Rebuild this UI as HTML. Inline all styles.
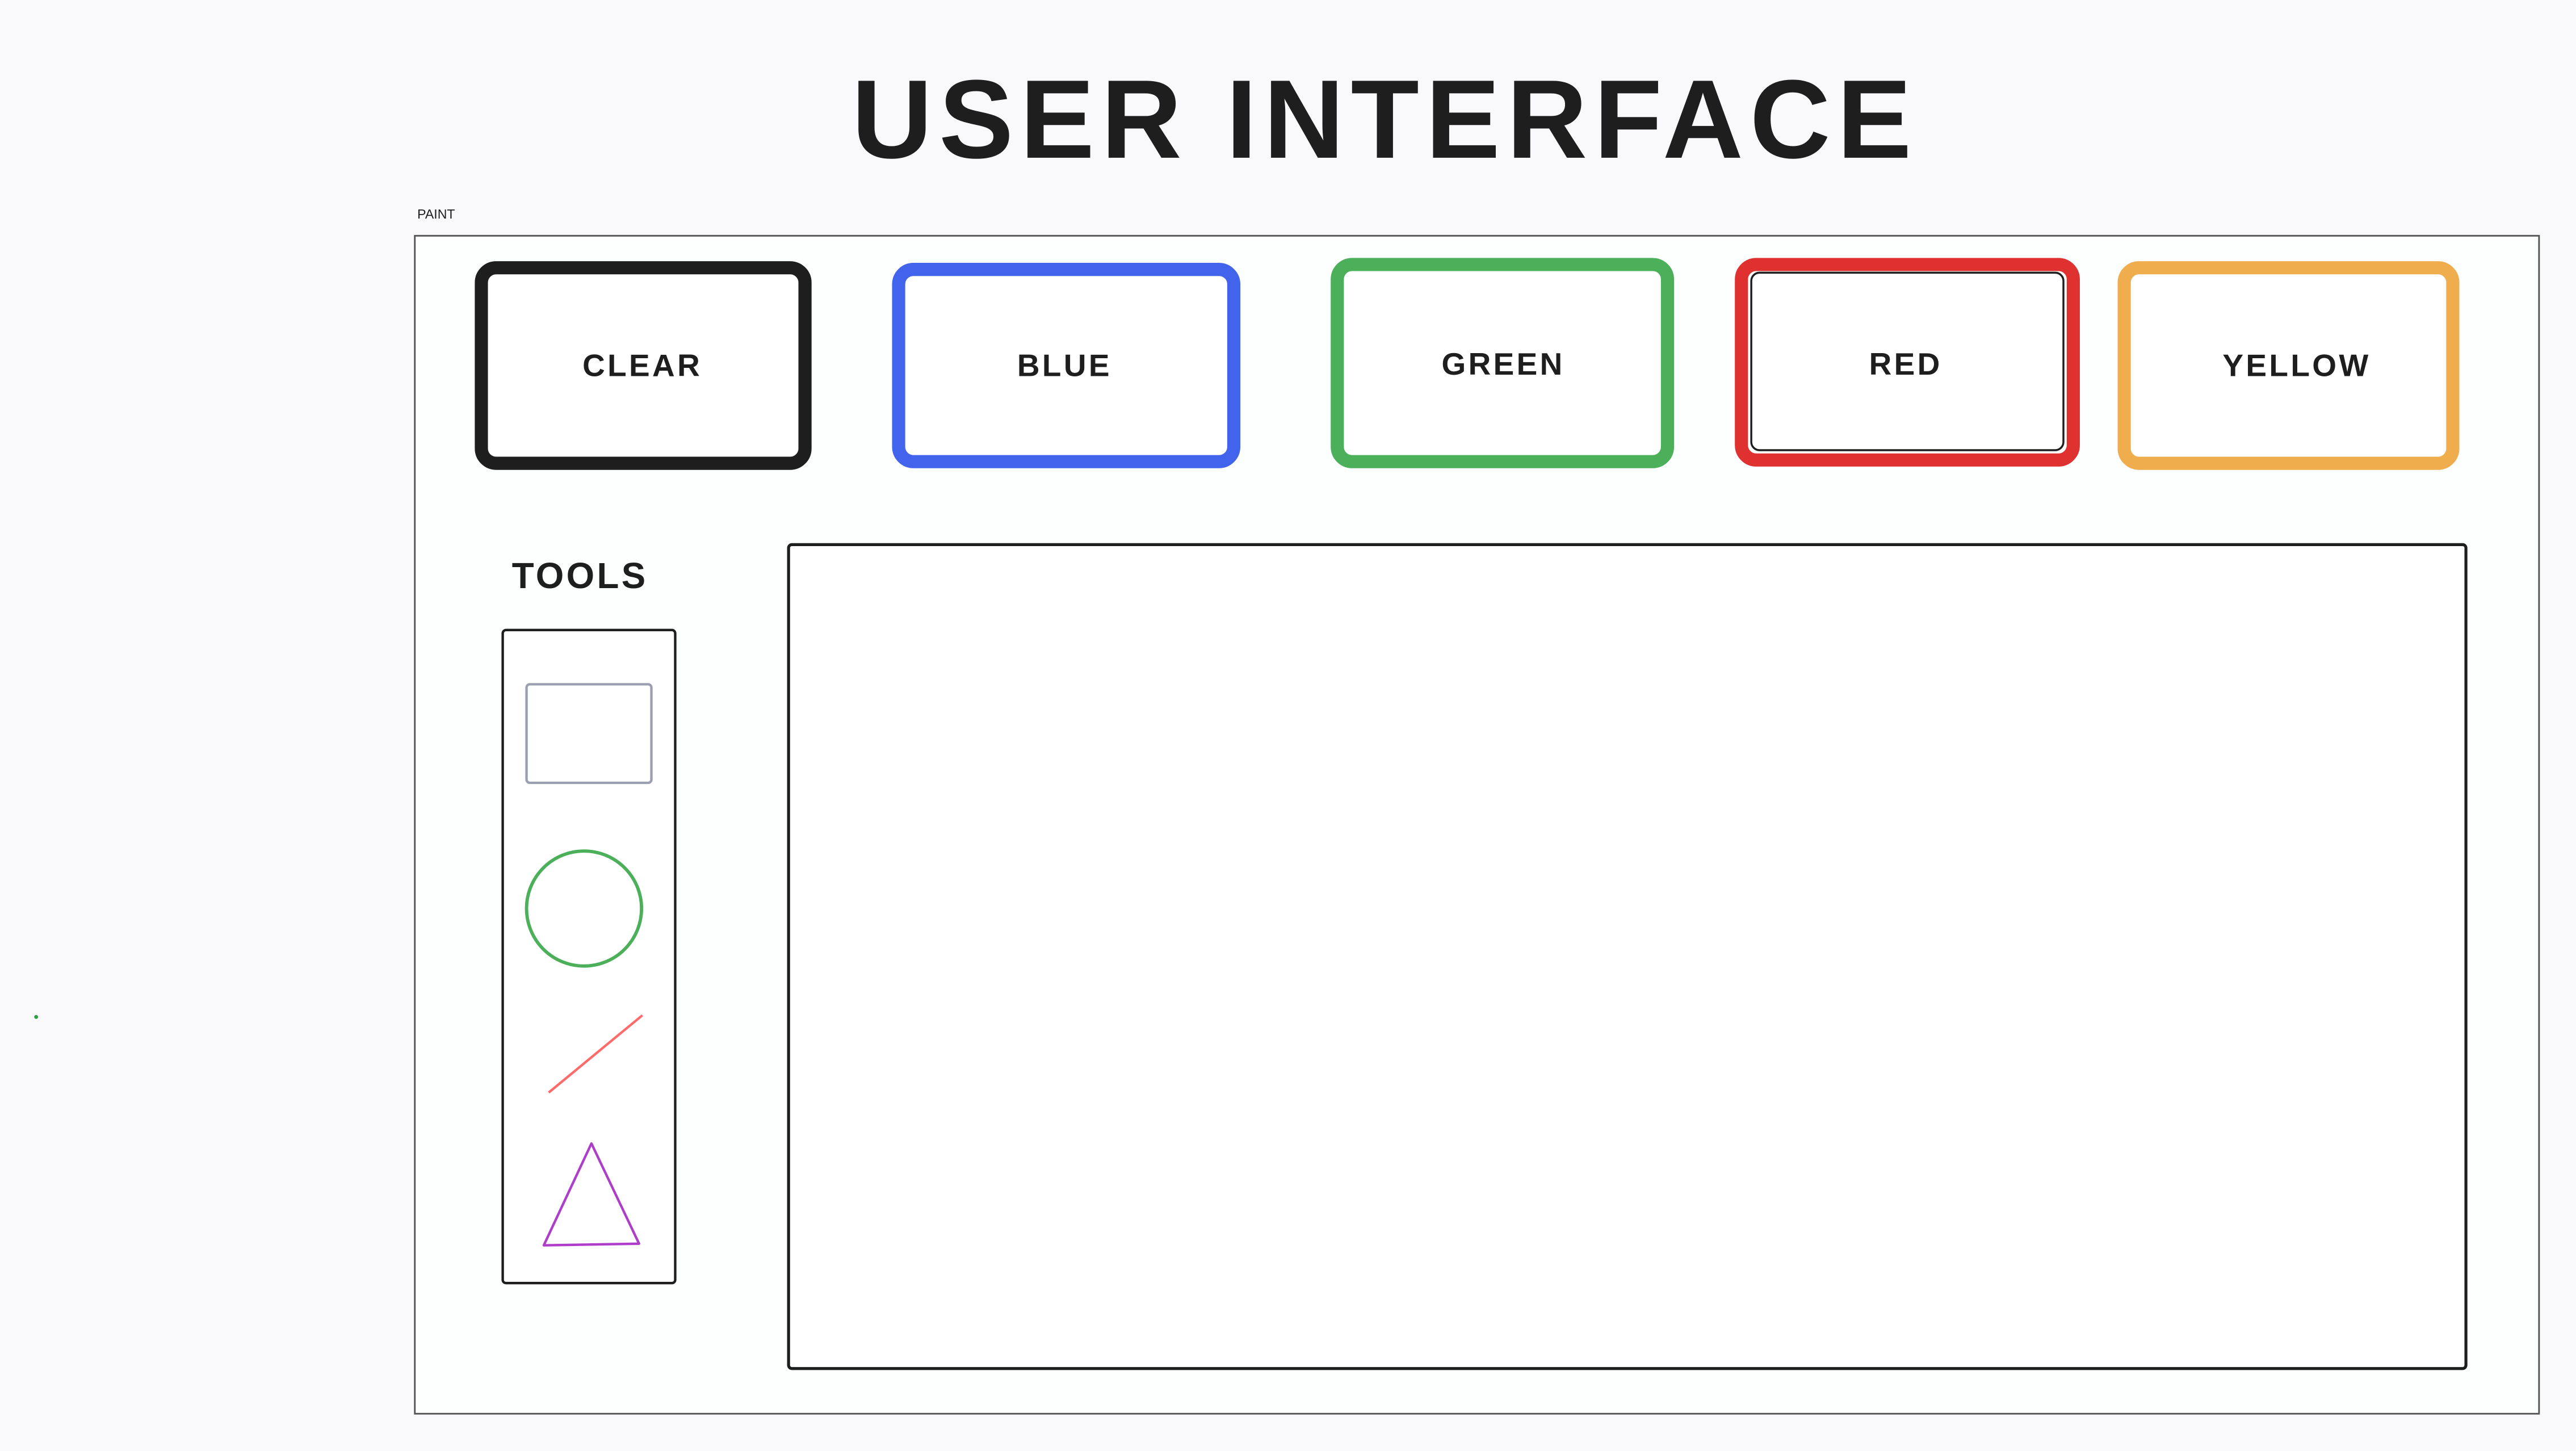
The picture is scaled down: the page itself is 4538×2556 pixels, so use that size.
<!DOCTYPE html>
<html><head><meta charset="utf-8"><style>
html,body{margin:0;padding:0;background:#f9f9fb;}
svg{display:block;}
text{font-family:"Liberation Sans",sans-serif;}
</style></head><body>
<svg width="4538" height="2556" viewBox="0 0 1568 883.2" preserveAspectRatio="none" xmlns="http://www.w3.org/2000/svg">
<rect x="0" y="0" width="1568" height="883.2" fill="#f9f9fb"/>
<text x="843" y="96" text-anchor="middle" font-size="68" font-weight="bold" fill="#1e1e1e" letter-spacing="4">USER INTERFACE</text>
<text x="254" y="133" font-size="8" fill="#1e1e1e">PAINT</text>
<rect x="252.5" y="143.5" width="1293" height="717" fill="#fdfefe" stroke="#555" stroke-width="1"/>
<g fill="#fff" stroke-width="8" stroke-linejoin="round">
<rect x="293" y="163" width="197" height="119" rx="9" stroke="#1e1e1e"/>
<rect x="547" y="164" width="204" height="117" rx="9" stroke="#4263eb"/>
<rect x="814" y="161" width="201" height="120" rx="9" stroke="#4caf59"/>
<rect x="1060" y="161" width="202" height="119" rx="9" stroke="#e03131"/>
<rect x="1293" y="163" width="200" height="119" rx="9" stroke="#f0ad4e"/>
</g>
<rect x="1066" y="166" width="190" height="108" rx="5" fill="none" stroke="#1e1e1e" stroke-width="1.2"/>
<g font-size="19" font-weight="bold" fill="#1e1e1e" text-anchor="middle" letter-spacing="1.5">
<text x="391" y="229">CLEAR</text>
<text x="648" y="229">BLUE</text>
<text x="915" y="228">GREEN</text>
<text x="1160" y="228">RED</text>
<text x="1398" y="229">YELLOW</text>
<text x="353" y="358" font-size="22">TOOLS</text>
</g>
<rect x="306" y="383.5" width="105" height="397.5" rx="2" fill="#fff" stroke="#1e1e1e" stroke-width="1.5"/>
<rect x="320.5" y="416.5" width="76" height="60" rx="2" fill="none" stroke="#9aa0b0" stroke-width="1.5"/>
<circle cx="355.5" cy="553" r="35" fill="none" stroke="#4caf59" stroke-width="2"/>
<line x1="334" y1="665" x2="391" y2="618" stroke="#ff6b6b" stroke-width="1.5"/>
<polygon points="360,696 331,758 389,757" fill="none" stroke="#ae3ec9" stroke-width="1.5" stroke-linejoin="round"/>
<rect x="480" y="331.5" width="1021" height="501.5" rx="2" fill="#fff" stroke="#1e1e1e" stroke-width="1.8"/>
<circle cx="22" cy="619" r="1.2" fill="#2f9e44"/>
</svg>
</body></html>
